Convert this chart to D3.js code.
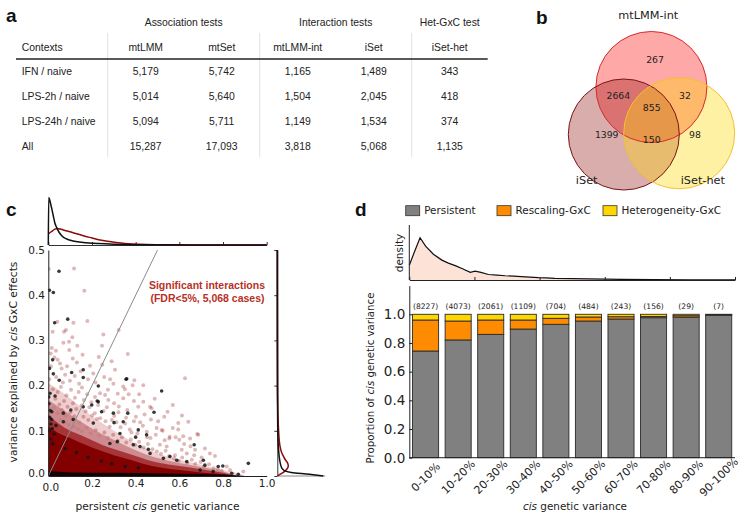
<!DOCTYPE html>
<html><head><meta charset="utf-8">
<script src="https://cdn.jsdelivr.net/npm/d3@7"></script>
<style>body{margin:0;background:#fff} svg{display:block}</style>
</head><body>
<svg id="fig" width="743" height="519"></svg>
<script>
// ================= DATA =================
// panel a (table)
const tableGroups = ["Association tests", "Interaction tests", "Het-GxC test"];
const tableColumns = ["mtLMM", "mtSet", "mtLMM-int", "iSet", "iSet-het"];
const tableContexts = ["IFN / naive", "LPS-2h / naive", "LPS-24h / naive", "All"];
const colMtLMM    = [5179, 5014, 5094, 15287];
const colMtSet    = [5742, 5640, 5711, 17093];
const colMtLMMint = [1165, 1504, 1149, 3818];
const colISet     = [1489, 2045, 1534, 5068];
const colISetHet  = [343, 418, 374, 1135];

// panel b (venn)
const vennSets = ["mtLMM-int", "iSet", "iSet-het"];
const vennCounts = [267, 2664, 32, 855, 1399, 150, 98]; // A, AB, AC, ABC, B, BC, C

// panel c (scatter) : [persistent cis variance, GxC variance]
const sigPoints = [
 [0.002,0.458],[0.118,0.459],[0.165,0.410],[0.179,0.343],[0.115,0.339],[0.041,0.341],[0.020,0.319],
 [0.072,0.319],[0.081,0.323],[0.110,0.307],[0.252,0.313],[0.322,0.323],[0.069,0.295],[0.095,0.297],
 [0.133,0.288],[0.246,0.288],[0.016,0.283],[0.035,0.277],[0.096,0.279],[0.157,0.268],[0.112,0.260],
 [0.364,0.270],[0.290,0.254],[0.043,0.257],[0.054,0.249],[0.247,0.246],[0.305,0.235],[0.283,0.214],
 [0.394,0.212],[0.386,0.201],[0.435,0.201],[0.626,0.216],[0.343,0.198],[0.351,0.192],[0.298,0.204],
 [0.011,0.271],[0.028,0.262],[0.061,0.238],[0.086,0.243],[0.131,0.251],[0.148,0.232],[0.191,0.244],
 [0.206,0.227],[0.231,0.263],[0.077,0.224],[0.121,0.221],[0.036,0.219],[0.182,0.214],[0.216,0.207],
 [0.256,0.219],[0.141,0.204],[0.099,0.211],[0.004,0.214],[0.237,0.183],[0.260,0.179],[0.214,0.175],
 [0.275,0.168],[0.343,0.172],[0.435,0.164],[0.570,0.157],[0.466,0.153],[0.412,0.153],[0.321,0.141],
 [0.302,0.133],[0.356,0.129],[0.470,0.125],[0.595,0.117],[0.641,0.120],[0.496,0.106],[0.519,0.102],
 [0.570,0.106],[0.595,0.103],[0.682,0.093],[0.556,0.087],[0.583,0.086],[0.473,0.150],[0.524,0.100],
 [0.687,0.091],[0.554,0.083],[0.600,0.080],[0.618,0.088],[0.649,0.083],[0.511,0.069],[0.542,0.065],
 [0.672,0.058],[0.717,0.061],[0.740,0.050],[0.763,0.044],[0.817,0.021],[0.832,0.013],[0.893,0.010],
 [0.634,0.050],[0.611,0.058],[0.580,0.046],
 [0.021,0.192],[0.043,0.186],[0.058,0.197],[0.083,0.178],[0.104,0.191],[0.122,0.173],[0.139,0.186],
 [0.163,0.168],[0.178,0.181],[0.197,0.163],[0.032,0.171],[0.051,0.158],[0.072,0.166],[0.088,0.153],
 [0.113,0.161],[0.128,0.148],[0.152,0.156],[0.171,0.143],[0.188,0.152],[0.213,0.139],[0.228,0.157],
 [0.253,0.144],[0.268,0.152],[0.291,0.124],[0.312,0.119],[0.331,0.108],[0.352,0.116],[0.373,0.103],
 [0.392,0.121],[0.408,0.094],[0.433,0.111],[0.451,0.098],[0.468,0.084],[0.492,0.091],[0.238,0.128],
 [0.262,0.121],[0.223,0.126],[0.201,0.134],[0.183,0.124],[0.161,0.131],[0.142,0.118],[0.119,0.132],
 [0.101,0.141],[0.079,0.134],[0.062,0.146],[0.041,0.139],[0.026,0.151],[0.057,0.124],[0.076,0.118],
 [0.094,0.113],[0.117,0.109],[0.136,0.104],[0.154,0.099],[0.176,0.106],[0.194,0.094],[0.217,0.101],
 [0.233,0.089],[0.257,0.096],[0.273,0.084],[0.297,0.091],[0.318,0.078],[0.337,0.086],[0.357,0.074],
 [0.378,0.081],[0.397,0.069],[0.416,0.076],[0.437,0.063],[0.456,0.071],[0.477,0.059],[0.497,0.054],
 [0.516,0.049],[0.537,0.056],[0.553,0.044],[0.576,0.039],[0.597,0.034],[0.613,0.041],[0.636,0.029],
 [0.657,0.036],[0.673,0.027],[0.697,0.031],[0.713,0.021],[0.736,0.026],[0.757,0.017],[0.776,0.015],
 [0.794,0.011],[0.668,0.046],[0.702,0.041],[0.651,0.066],[0.622,0.071],[0.533,0.079],[0.452,0.086],
 [0.381,0.096],[0.281,0.109],[0.301,0.161],[0.323,0.154],[0.362,0.146],[0.401,0.131],[0.421,0.119],
 [0.441,0.136],[0.503,0.121],[0.531,0.131],[0.392,0.166],[0.368,0.181],[0.012,0.243],[0.067,0.207],
 [0.154,0.196],[0.273,0.191],[0.318,0.182],[0.416,0.181],[0.487,0.171],[0.546,0.142],[0.612,0.134]
];
const nonSigPoints = [
 [0.049,0.453],[0.005,0.411],[0.023,0.406],[0.029,0.339],[0.089,0.347],[0.020,0.257],[0.005,0.238],
 [0.023,0.226],[0.050,0.212],[0.107,0.229],[0.160,0.235],[0.160,0.218],[0.229,0.199],[0.359,0.215],
 [0.008,0.183],[0.031,0.177],[0.103,0.146],[0.069,0.139],[0.016,0.142],[0.160,0.153],[0.199,0.157],
 [0.229,0.164],[0.244,0.142],[0.298,0.139],[0.364,0.139],[0.484,0.141],[0.343,0.120],[0.301,0.118],
 [0.206,0.117],[0.114,0.125],[0.069,0.120],[0.328,0.094],[0.412,0.102],[0.450,0.091],[0.282,0.072],
 [0.316,0.076],[0.389,0.069],[0.420,0.065],[0.458,0.059],[0.466,0.050],[0.356,0.214],[0.519,0.188],
 [0.224,0.166],[0.400,0.086],[0.668,0.069],[0.588,0.035],[0.710,0.035],[0.717,0.024],[0.778,0.021],
 [0.799,0.022],[0.916,0.028],[0.840,0.006],[0.870,0.004],[0.634,0.032],[0.557,0.043],[0.527,0.039],
 [0.695,0.013],[0.755,0.010],[0.003,0.160],[0.006,0.130],[0.012,0.115],[0.004,0.100],[0.009,0.145],
 [0.015,0.125],[0.002,0.175],[0.018,0.105],[0.027,0.093],[0.011,0.082],[0.035,0.112],[0.021,0.071],
 [0.182,0.041],[0.243,0.033],[0.291,0.027],[0.352,0.021],[0.412,0.018],[0.129,0.052],[0.078,0.061]
];
// envelopes of the saturated point cloud (upper edge of each density level)
const cloudHalo = [[0,0.205],[0.05,0.19],[0.1,0.172],[0.15,0.152],[0.2,0.132],[0.25,0.116],[0.3,0.1],
  [0.35,0.086],[0.4,0.072],[0.45,0.06],[0.5,0.05],[0.6,0.036],[0.7,0.025],[0.8,0.013],[0.88,0.004],[0.9,0]];
const cloudOuter = [[0,0.168],[0.05,0.152],[0.1,0.136],[0.15,0.12],[0.2,0.105],[0.25,0.092],[0.3,0.08],
  [0.35,0.068],[0.4,0.057],[0.45,0.047],[0.5,0.04],[0.6,0.029],[0.7,0.02],[0.8,0.01],[0.87,0]];
const cloudMid = [[0,0.135],[0.05,0.115],[0.1,0.1],[0.15,0.09],[0.2,0.079],[0.25,0.068],[0.3,0.06],
  [0.35,0.052],[0.4,0.044],[0.45,0.036],[0.5,0.03],[0.6,0.022],[0.7,0.015],[0.8,0.007],[0.86,0]];
const cloudCore = [[0,0.11],[0.05,0.094],[0.1,0.084],[0.15,0.073],[0.2,0.063],[0.25,0.054],[0.3,0.046],
  [0.35,0.039],[0.4,0.032],[0.45,0.025],[0.5,0.02],[0.6,0.013],[0.7,0.008],[0.8,0.004],[0.85,0]];
const cloudBlack = [[0,0.011],[0.1,0.008],[0.3,0.007],[0.5,0.006],[0.6,0.005],[0.7,0.0045],[0.8,0.0035],[0.87,0.001],[0.9,0]];
// marginal densities
const topDensAll = [[0,0],[0.002,47.6],[0.012,40],[0.023,29],[0.03,22],[0.038,17.6],[0.05,12.5],[0.065,8.5],
  [0.084,6],[0.12,3.8],[0.16,2.6],[0.23,1.4],[0.3,0.7],[0.4,0.3],[0.5,0.15],[0.7,0.05],[1,0]];
const topDensSig = [[0,11],[0.015,13.5],[0.03,15.8],[0.04,16.6],[0.055,16],[0.069,15],[0.1,13.2],[0.13,11.2],
  [0.16,9.3],[0.2,7],[0.23,5.3],[0.27,3.8],[0.31,2.6],[0.35,1.6],[0.39,1],[0.45,0.5],[0.54,0.2],[0.7,0.1],[0.85,0.03],[1,0]];
const rightDensAll = [[0,46],[0.004,32],[0.008,14],[0.012,7],[0.018,4.4],[0.03,2.8],[0.045,1.8],[0.066,1],
  [0.1,0.5],[0.15,0.25],[0.2,0.1],[0.5,0]];
const rightDensSig = [[0,0.3],[0.004,3],[0.008,6],[0.015,9.5],[0.022,11],[0.03,10],[0.037,7.7],[0.045,5.8],
  [0.052,4.3],[0.066,2.7],[0.08,1.9],[0.1,1.3],[0.13,0.7],[0.18,0.3],[0.3,0.1],[0.5,0]];

// panel d
const binLabels = ["0-10%","10-20%","20-30%","30-40%","40-50%","50-60%","60-70%","70-80%","80-90%","90-100%"];
const binCounts = [8227, 4073, 2061, 1109, 704, 484, 243, 156, 29, 7];
const propPersistent = [0.744, 0.821, 0.860, 0.897, 0.930, 0.953, 0.967, 0.976, 0.980, 0.993];
const propRescaling  = [0.216, 0.132, 0.100, 0.063, 0.042, 0.028, 0.016, 0.009, 0.010, 0.004];
const propHetero     = [0.040, 0.047, 0.040, 0.040, 0.028, 0.019, 0.017, 0.015, 0.010, 0.003];
const cisDensity = [[0,3.5],[0.015,6.5],[0.033,10],[0.05,8],[0.074,6.1],[0.1,4.7],[0.12,4],[0.141,3.4],
  [0.165,2.6],[0.187,1.8],[0.202,2.1],[0.22,1.8],[0.243,1.3],[0.27,1.15],[0.294,1.0],[0.32,0.9],[0.345,0.8],
  [0.37,0.7],[0.396,0.55],[0.42,0.5],[0.447,0.4],[0.5,0.32],[0.55,0.25],[0.6,0.2],[0.652,0.15],[0.75,0.1],
  [0.857,0.06],[0.93,0.05],[1,0.05]];
const legendNames = ["Persistent", "Rescaling-GxC", "Heterogeneity-GxC"];

// ================= DRAWING =================
const svg = d3.select("#fig");
const ARIAL = "'Liberation Sans', Arial, Helvetica, sans-serif";
const DV = "'DejaVu Sans', sans-serif";
svg.append("rect").attr("width", 743).attr("height", 519).attr("fill", "#fff");

// panel letters
const letters = svg.append("g").attr("font-family", ARIAL).attr("font-weight", "bold").attr("font-size", 19).attr("fill", "#111");
letters.append("text").attr("x", 6).attr("y", 22).text("a");
letters.append("text").attr("x", 536).attr("y", 24).text("b");
letters.append("text").attr("x", 6).attr("y", 216).text("c");
letters.append("text").attr("x", 355).attr("y", 216).text("d");

// ---------- panel a : table ----------
(function () {
  const g = svg.append("g").attr("font-family", ARIAL).attr("font-size", 10.4).attr("fill", "#222");
  const col = d3.scaleBand().domain(tableColumns).range([107.7, 487.7]);
  const row = d3.scalePoint().domain(tableContexts).range([75, 150]);
  const mid = c => col(c) + col.bandwidth() / 2;
  const groupCols = [["mtLMM", "mtSet"], ["mtLMM-int", "iSet"], ["iSet-het"]];
  ["mtLMM", "mtLMM-int", "iSet-het"].forEach(c => {
    g.append("line").attr("x1", col(c)).attr("x2", col(c)).attr("y1", 33).attr("y2", 157)
      .attr("stroke", "#e2e2e2").attr("stroke-width", 1);
  });
  tableGroups.forEach((t, i) => {
    const x = d3.mean(groupCols[i], mid);
    g.append("text").attr("x", x).attr("y", 26).attr("text-anchor", "middle").text(t);
  });
  g.append("text").attr("x", 21.7).attr("y", 51).text("Contexts");
  tableColumns.forEach(c => g.append("text").attr("x", mid(c)).attr("y", 51).attr("text-anchor", "middle").text(c));
  g.append("line").attr("x1", 16).attr("x2", 487.7).attr("y1", 59).attr("y2", 59).attr("stroke", "#222").attr("stroke-width", 1.4);
  const fmt = d3.format(",");
  const cols = [colMtLMM, colMtSet, colMtLMMint, colISet, colISetHet];
  tableContexts.forEach((ctx, r) => {
    g.append("text").attr("x", 21.7).attr("y", row(ctx)).text(ctx);
    cols.forEach((arr, j) => {
      g.append("text").attr("x", mid(tableColumns[j])).attr("y", row(ctx)).attr("text-anchor", "middle").text(fmt(arr[r]));
    });
  });
})();

// ---------- panel b : venn ----------
(function () {
  const R = 55.5, CX = 651.4, CY = 118.3;
  const vx = d3.scaleLinear().domain([-1, 1]).range([CX - R, CX + R]);
  const vy = d3.scaleLinear().domain([-1, 1]).range([CY - R, CY + R]);
  const layout = {
    centers: [[0, -0.564], [-0.497, 0.292], [0.501, 0.27]],
    regions: [[0.065, -1.063], [-0.596, -0.407], [0.605, -0.407], [0.005, -0.198], [-0.805, 0.301], [0.005, 0.391], [0.786, 0.301]],
    labels: [[-0.056, -1.784], [-1.166, 1.177], [0.926, 1.177]]
  };
  const fills = ["#ff0000", "#8b0000", "#ffd700"], fo = [0.34, 0.32, 0.36];
  const edges = ["#d62a2a", "#7a1414", "#f2c12e"];
  const g = svg.append("g");
  layout.centers.forEach((c, i) => g.append("circle").attr("cx", vx(c[0])).attr("cy", vy(c[1])).attr("r", vx(1) - vx(0))
    .attr("fill", fills[i]).attr("fill-opacity", fo[i]));
  layout.centers.forEach((c, i) => g.append("circle").attr("cx", vx(c[0])).attr("cy", vy(c[1])).attr("r", vx(1) - vx(0))
    .attr("fill", "none").attr("stroke", edges[i]).attr("stroke-width", 1));
  vennCounts.forEach((v, i) => g.append("text").attr("x", vx(layout.regions[i][0])).attr("y", vy(layout.regions[i][1]))
    .attr("dy", "0.36em").attr("text-anchor", "middle").attr("font-family", DV).attr("font-size", 9.3).attr("fill", "#222").text(v));
  vennSets.forEach((s, i) => g.append("text").attr("x", vx(layout.labels[i][0])).attr("y", vy(layout.labels[i][1]))
    .attr("text-anchor", "middle").attr("font-family", DV).attr("font-size", 11.3).attr("fill", "#222").text(s));
})();

// ---------- panel c : scatter ----------
(function () {
  const x = d3.scaleLinear().domain([0, 1]).range([48.3, 266.7]);
  const y = d3.scaleLinear().domain([0, 0.5]).range([476, 250]);
  const g = svg.append("g");
  svg.append("clipPath").attr("id", "clipC").append("rect").attr("x", 48.3).attr("y", 250).attr("width", 218.4).attr("height", 226);
  const pl = g.append("g").attr("clip-path", "url(#clipC)");
  const area = d3.area().x(d => x(d[0])).y0(y(0)).y1(d => y(d[1])).curve(d3.curveMonotoneX);
  pl.append("path").datum(cloudHalo).attr("d", area).attr("fill", "#ecc6c8").attr("opacity", 0.85);
  pl.selectAll("circle.sig").data(sigPoints).join("circle").attr("class", "sig")
    .attr("cx", d => x(d[0])).attr("cy", d => y(d[1])).attr("r", 2).attr("fill", "#8b0000").attr("fill-opacity", 0.28);
  pl.append("path").datum(cloudOuter).attr("d", area).attr("fill", "#c47b80").attr("opacity", 0.8);
  pl.append("path").datum(cloudMid).attr("d", area).attr("fill", "#a32a2e").attr("opacity", 0.9);
  pl.append("path").datum(cloudCore).attr("d", area).attr("fill", "#820000");
  pl.selectAll("circle.ns").data(nonSigPoints).join("circle").attr("class", "ns")
    .attr("cx", d => x(d[0])).attr("cy", d => y(d[1])).attr("r", 1.8).attr("fill", "#151515").attr("fill-opacity", 0.85);
  pl.append("path").datum(cloudBlack).attr("d", area).attr("fill", "#120404");
  const idLine = [0, 0.5];
  pl.append("line").attr("x1", x(idLine[0])).attr("y1", y(idLine[0])).attr("x2", x(idLine[1])).attr("y2", y(idLine[1]))
    .attr("stroke", "#8a8a8a").attr("stroke-width", 1);

  const fmt = d3.format(".1f");
  const ax = g.append("g").attr("transform", "translate(0,476)")
    .call(d3.axisBottom(x).tickValues([0, 0.2, 0.4, 0.6, 0.8, 1]).tickFormat(fmt).tickSizeInner(0).tickSizeOuter(0).tickPadding(3.5));
  const ay = g.append("g").attr("transform", "translate(48.3,0)")
    .call(d3.axisLeft(y).tickValues([0, 0.1, 0.2, 0.3, 0.4, 0.5]).tickFormat(fmt).tickSizeInner(0).tickSizeOuter(0).tickPadding(3.3));
  [ax, ay].forEach(a => {
    a.select(".domain").attr("stroke", "#222");
    a.selectAll("text").attr("font-family", DV).attr("font-size", 10.5).attr("fill", "#222");
  });
  // keep the two "0.0" labels at the corner from colliding
  ax.selectAll(".tick text").filter(d => d === 0).attr("dy", "1.05em").attr("dx", "0.2em");
  ay.selectAll(".tick text").filter(d => d === 0).attr("dy", "0.0em");
  const lab = svg.append("g").attr("font-family", DV).attr("font-size", 10.7).attr("fill", "#222");
  const xl = lab.append("text").attr("x", 157.5).attr("y", 510).attr("text-anchor", "middle");
  xl.append("tspan").text("persistent ");
  xl.append("tspan").attr("font-style", "italic").text("cis");
  xl.append("tspan").text(" genetic variance");
  const yl = lab.append("text").attr("transform", "translate(17,362) rotate(-90)").attr("text-anchor", "middle");
  yl.append("tspan").text("variance explained by ");
  yl.append("tspan").attr("font-style", "italic").text("cis");
  yl.append("tspan").text(" GxC effects");

  const ann = svg.append("g").attr("font-family", ARIAL).attr("font-weight", "bold").attr("font-size", 10.5)
    .attr("fill", "#b83026").attr("text-anchor", "middle");
  ann.append("text").attr("x", 207).attr("y", 288.5).text("Significant interactions");
  ann.append("text").attr("x", 207.5).attr("y", 301.5).text("(FDR<5%, 5,068 cases)");

  // top marginal
  const ty = d3.scaleLinear().domain([0, 50]).range([245, 195]);
  const tline = d3.line().x(d => x(d[0])).y(d => ty(d[1])).curve(d3.curveMonotoneX);
  const tm = svg.append("g");
  tm.append("g").attr("transform", "translate(0,245)")
    .call(d3.axisBottom(x).tickValues([0, 0.2, 0.4, 0.6, 0.8, 1]).tickFormat("").tickSizeInner(-3).tickSizeOuter(0))
    .call(a => a.selectAll("line,path").attr("stroke", "#333"));
  tm.append("path").datum(topDensSig).attr("d", tline).attr("fill", "none").attr("stroke", "#8b0a0a").attr("stroke-width", 1.5);
  tm.append("path").datum(topDensAll).attr("d", tline).attr("fill", "none").attr("stroke", "#111").attr("stroke-width", 1.5);

  // right marginal
  const rx = d3.scaleLinear().domain([0, 50]).range([277.3, 327.3]);
  const rline = d3.line().x(d => rx(d[1])).y(d => y(d[0])).curve(d3.curveMonotoneY);
  const rm = svg.append("g");
  rm.append("g").attr("transform", "translate(277.3,0)")
    .call(d3.axisRight(y).tickValues([0, 0.1, 0.2, 0.3, 0.4, 0.5]).tickFormat("").tickSizeInner(-3).tickSizeOuter(0))
    .call(a => a.selectAll("line,path").attr("stroke", "#333"));
  rm.append("line").attr("x1", rx(0)).attr("x2", rx(48)).attr("y1", y(0)).attr("y2", y(0)).attr("stroke", "#888");
  rm.append("path").datum(rightDensSig).attr("d", rline).attr("fill", "none").attr("stroke", "#8b0a0a").attr("stroke-width", 1.5);
  rm.append("path").datum(rightDensAll).attr("d", rline).attr("fill", "none").attr("stroke", "#111").attr("stroke-width", 1.5);
})();

// ---------- panel d : stacked bars ----------
(function () {
  const keys = ["p", "r", "h"];
  const colors = { p: "#808080", r: "#ff8c00", h: "#ffd700" };
  const rows = binLabels.map((b, i) => ({ bin: b, p: propPersistent[i], r: propRescaling[i], h: propHetero[i] }));
  const x = d3.scaleBand().domain(binLabels).range([409.3, 735]).paddingInner(0.2).paddingOuter(0.1);
  const y = d3.scaleLinear().domain([0, 1.2]).range([457.7, 285.6]);
  const g = svg.append("g");
  const stack = d3.stack().keys(keys)(rows);
  g.selectAll("g.layer").data(stack).join("g").attr("class", "layer").attr("fill", d => colors[d.key])
    .selectAll("rect").data(d => d).join("rect")
    .attr("x", d => x(d.data.bin)).attr("width", x.bandwidth())
    .attr("y", d => y(d[1])).attr("height", d => y(d[0]) - y(d[1]))
    .attr("stroke", "#2a2a2a").attr("stroke-width", 0.9);
  g.selectAll("text.cnt").data(binCounts).join("text").attr("class", "cnt")
    .attr("x", (d, i) => x(binLabels[i]) + x.bandwidth() / 2).attr("y", y(1) - 5.6)
    .attr("text-anchor", "middle").attr("font-family", DV).attr("font-size", 7.6).attr("fill", "#222")
    .text(d => "(" + d + ")");
  const ay = g.append("g").attr("transform", "translate(409.3,0)")
    .call(d3.axisLeft(y).tickValues([0, 0.2, 0.4, 0.6, 0.8, 1.0]).tickFormat(d3.format(".1f")).tickSizeInner(-3).tickSizeOuter(0).tickPadding(4));
  ay.selectAll("text").attr("font-family", DV).attr("font-size", 13.5).attr("fill", "#222");
  ay.selectAll("line,path").attr("stroke", "#222");
  g.append("line").attr("x1", 409.3).attr("x2", 735).attr("y1", y(0)).attr("y2", y(0)).attr("stroke", "#222");
  g.selectAll("text.bin").data(binLabels).join("text").attr("class", "bin")
    .attr("transform", d => `translate(${x(d) + x.bandwidth() / 2},477) rotate(-45)`)
    .attr("text-anchor", "middle").attr("dy", "0.35em").attr("font-family", DV).attr("font-size", 11).attr("fill", "#222").text(d => d);
  const xl = g.append("text").attr("x", 575).attr("y", 510).attr("text-anchor", "middle").attr("font-family", DV).attr("font-size", 10.4).attr("fill", "#222");
  xl.append("tspan").attr("font-style", "italic").text("cis");
  xl.append("tspan").text(" genetic variance");
  const yl = g.append("text").attr("transform", "translate(374,378) rotate(-90)").attr("text-anchor", "middle")
    .attr("font-family", DV).attr("font-size", 10.2).attr("fill", "#222");
  yl.append("tspan").text("Proportion of ");
  yl.append("tspan").attr("font-style", "italic").text("cis");
  yl.append("tspan").text(" genetic variance");

  const dxs = d3.scaleLinear().domain([0, 1]).range([409.3, 735]);
  const dys = d3.scaleLinear().domain([0, 13]).range([280, 225]);
  const dg = svg.append("g");
  dg.append("path").datum(cisDensity).attr("fill", "#fde2d8")
    .attr("d", d3.area().x(d => dxs(d[0])).y0(dys(0)).y1(d => dys(d[1])));
  dg.append("path").datum(cisDensity).attr("fill", "none").attr("stroke", "#111").attr("stroke-width", 1.2)
    .attr("d", d3.line().x(d => dxs(d[0])).y(d => dys(d[1])));
  dg.append("g").attr("transform", "translate(0,280)")
    .call(d3.axisBottom(dxs).tickValues([0, 0.2, 0.4, 0.6, 0.8, 1]).tickFormat("").tickSizeInner(-3).tickSizeOuter(0))
    .call(a => a.selectAll("line,path").attr("stroke", "#222"));
  dg.append("line").attr("x1", 409.3).attr("x2", 409.3).attr("y1", 225).attr("y2", 280).attr("stroke", "#222");
  dg.append("text").attr("transform", "translate(403,253) rotate(-90)").attr("text-anchor", "middle")
    .attr("font-family", DV).attr("font-size", 10.5).attr("fill", "#222").text("density");

  const legX = [405.7, 497, 603];
  const lg = svg.append("g");
  legendNames.forEach((n, i) => {
    lg.append("rect").attr("x", legX[i]).attr("y", 205.7).attr("width", 14).attr("height", 10)
      .attr("fill", colors[keys[i]]).attr("stroke", "#333").attr("stroke-width", 0.8);
    lg.append("text").attr("x", legX[i] + 18.5).attr("y", 214.4).attr("font-family", DV).attr("font-size", 10.4).attr("fill", "#222").text(n);
  });
})();
</script>
</body></html>
